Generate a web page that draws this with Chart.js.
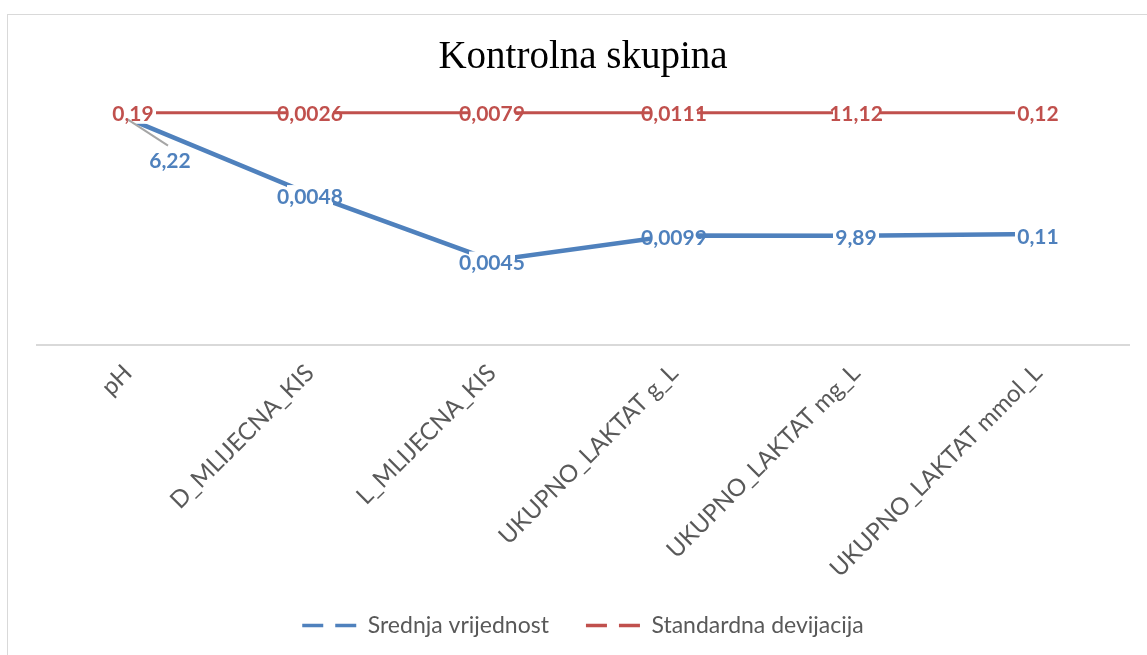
<!DOCTYPE html>
<html><head><meta charset="utf-8">
<script src="https://cdn.jsdelivr.net/npm/chart.js@4.4.1/dist/chart.umd.min.js"></script>
<style>
html,body{margin:0;padding:0;background:#fff;overflow:hidden;width:1147px;height:655px}
#frame{position:absolute;left:7px;top:14px;width:1200px;height:700px;border:1.5px solid #d9d9d9;box-sizing:border-box}
canvas{position:absolute;left:0;top:0}
</style></head><body>
<div id="frame"></div>
<canvas id="c" width="1147" height="655"></canvas>
<script>
// ---- data ----
const categories = ['pH', 'D_MLIJECNA_KIS', 'L_MLIJECNA_KIS', 'UKUPNO_LAKTAT g_L', 'UKUPNO_LAKTAT mg_L', 'UKUPNO_LAKTAT mmol_L'];
const seriesNames = ['Srednja vrijednost', 'Standardna devijacija'];
// plotted levels (100% stacked line, percent of total)
const meanShare = [97.5, 65.0, 36.4, 47.2, 47.1, 47.8];
const sdShare = [100, 100, 100, 100, 100, 100];
// data label texts
const meanLabels = ['6,22', '0,0048', '0,0045', '0,0099', '9,89', '0,11'];
const sdLabels = ['0,19', '0,0026', '0,0079', '0,0111', '11,12', '0,12'];

const BLUE = '#4f81bd', RED = '#c0504d';

const labelPlugin = {
  id: 'valueLabels',
  afterDatasetsDraw(chart, args, opts) {
    const ctx = chart.ctx;
    ctx.save();
    ctx.font = 'bold 21px Lato';
    ctx.textAlign = 'center';
    ctx.textBaseline = 'middle';
    opts.sets.forEach(s => {
      const meta = chart.getDatasetMeta(s.dataset);
      meta.data.forEach((pt, i) => {
        const off = (s.offsets && s.offsets[i]) || [0, s.dy || 0];
        const x = pt.x + off[0], y = pt.y + off[1];
        const text = s.texts[i];
        if (s.leaders && s.leaders[i]) {
          ctx.strokeStyle = '#a6a6a6';
          ctx.lineWidth = 2;
          ctx.beginPath();
          ctx.moveTo(pt.x, pt.y + 1);
          ctx.lineTo(x - 2, y - 15);
          ctx.stroke();
        } else {
          ctx.fillStyle = '#ffffff';
          ctx.fillRect(x - 23, y - 11, 46, 22);
        }
        ctx.fillStyle = s.color;
        ctx.fillText(text, x, y + 1);
      });
    });
    ctx.restore();
  }
};

new Chart(document.getElementById('c'), {
  type: 'line',
  data: {
    labels: categories,
    datasets: [
      { label: seriesNames[0], data: meanShare, borderColor: BLUE, backgroundColor: BLUE, borderWidth: 4.5, pointRadius: 0, tension: 0, fill: false, clip: false },
      { label: seriesNames[1], data: sdShare, borderColor: RED, backgroundColor: RED, borderWidth: 3, pointRadius: 0, tension: 0, fill: false, clip: false }
    ]
  },
  options: {
    responsive: false,
    animation: false,
    layout: { padding: { left: 37, right: 18, top: 0, bottom: 8 } },
    scales: {
      x: {
        offset: true,
        grid: { display: false, drawTicks: false },
        border: { display: true, color: '#d9d9d9', width: 2 },
        ticks: { color: '#595959', font: { family: 'Lato', size: 24 }, minRotation: 45, maxRotation: 45, autoSkip: false, padding: 14 },
        afterFit(scale) { scale.height = 232; }
      },
      y: { display: false, min: 0, max: 100 }
    },
    plugins: {
      title: { display: true, text: 'Kontrolna skupina', color: '#000', font: { family: 'Liberation Serif', size: 39, weight: 'normal' }, padding: { top: 34, bottom: 32 } },
      legend: {
        position: 'bottom',
        labels: {
          color: '#595959', font: { family: 'Lato', size: 23 }, padding: 37,
          usePointStyle: true, pointStyleWidth: 54,
          generateLabels(chart) {
            return chart.data.datasets.map((d, i) => ({
              text: d.label, strokeStyle: d.borderColor, fillStyle: d.borderColor,
              lineWidth: 3.5, lineDash: [21, 12], pointStyle: 'line', datasetIndex: i, fontColor: '#595959'
            }));
          }
        }
      },
      tooltip: { enabled: false },
      valueLabels: {
        sets: [
          { dataset: 1, texts: sdLabels, color: RED, offsets: [[5, 0]] },
          { dataset: 0, texts: meanLabels, color: BLUE, offsets: [[42, 42]], leaders: [true], dy: 2 }
        ]
      }
    }
  },
  plugins: [labelPlugin]
});
</script>
</body></html>
